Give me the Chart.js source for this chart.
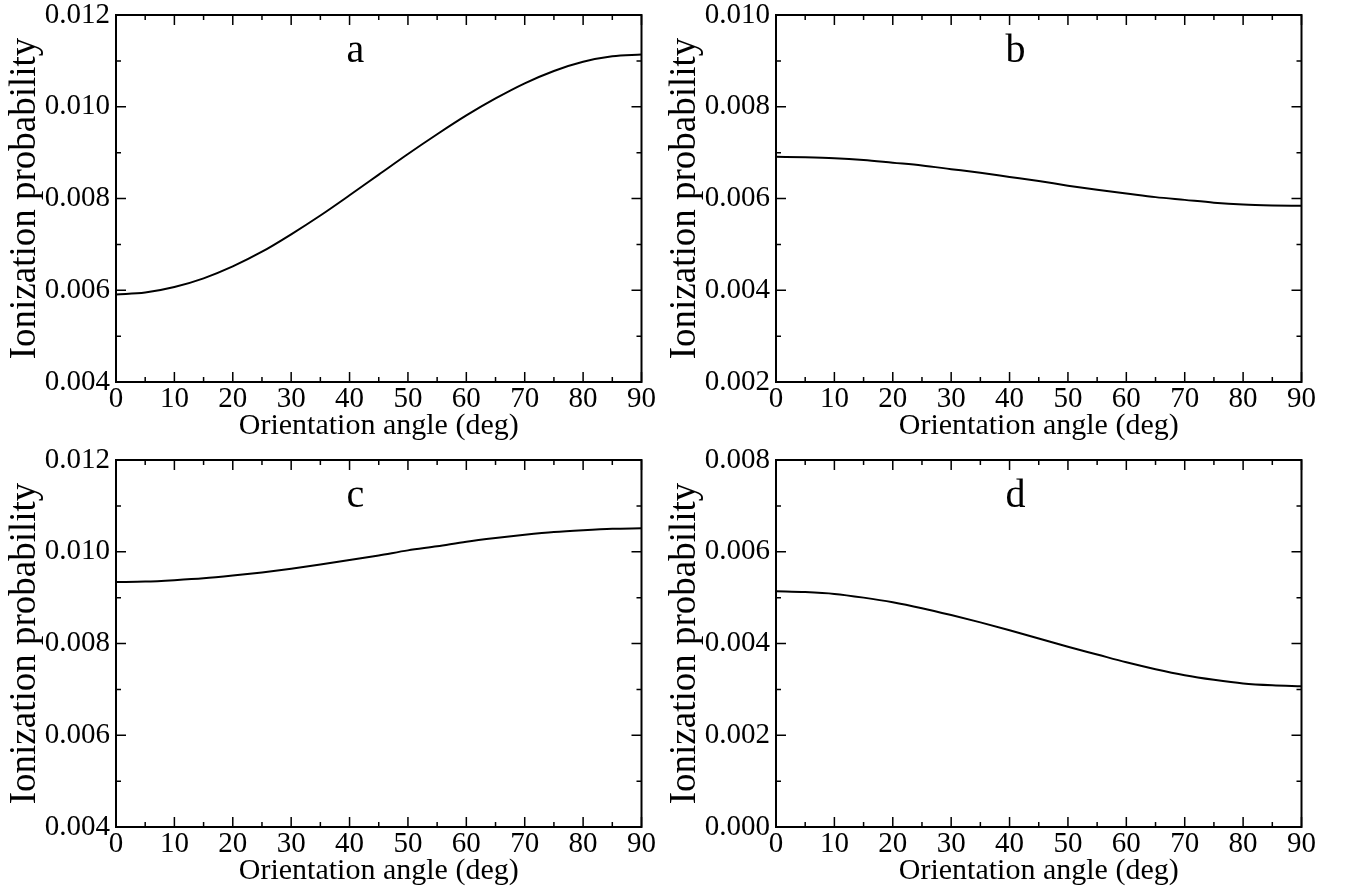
<!DOCTYPE html>
<html>
<head>
<meta charset="utf-8">
<script src="https://cdn.jsdelivr.net/npm/chart.js@4.4.1/dist/chart.umd.min.js"></script>
<style>
  body { margin: 0; background: #fff; width: 1352px; height: 892px; position: relative; overflow: hidden; }
  canvas { position: absolute; }
</style>
</head>
<body>
<canvas id="pa" width="676" height="461" style="left:0;top:-15px"></canvas>
<canvas id="pb" width="676" height="461" style="left:660px;top:-15px"></canvas>
<canvas id="pc" width="676" height="461" style="left:0;top:430px"></canvas>
<canvas id="pd" width="676" height="461" style="left:660px;top:430px"></canvas>
<script>
// orientation angle (deg)
const angles = [0, 5, 10, 15, 20, 25, 30, 35, 40, 45, 50, 55, 60, 65, 70, 75, 80, 85, 90];

// ionization probability
const probA = [0.00591, 0.00595, 0.00607, 0.00626, 0.00652, 0.00684, 0.00722, 0.00763, 0.00807, 0.00852,
               0.00897, 0.00940, 0.00981, 0.01018, 0.01051, 0.01078, 0.01098, 0.01110, 0.01114];
const probB = [0.00691, 0.00690, 0.00688, 0.00684, 0.00678, 0.00672, 0.00664, 0.00656, 0.00647, 0.00638,
               0.00628, 0.00619, 0.00611, 0.00603, 0.00597, 0.00591, 0.00587, 0.00585, 0.00584];
const probC = [0.00934, 0.00935, 0.00938, 0.00942, 0.00948, 0.00955, 0.00963, 0.00972, 0.00982, 0.00992,
               0.01003, 0.01012, 0.01022, 0.01030, 0.01037, 0.01043, 0.01047, 0.01050, 0.01051];
const probD = [0.00514, 0.00512, 0.00508, 0.00500, 0.00490, 0.00477, 0.00462, 0.00446, 0.00429, 0.00411,
               0.00393, 0.00376, 0.00359, 0.00344, 0.00331, 0.00321, 0.00313, 0.00309, 0.00307];

// y axis ranges for each panel
const yRangeA = [0.004, 0.012];
const yRangeB = [0.002, 0.010];
const yRangeC = [0.004, 0.012];
const yRangeD = [0.000, 0.008];

const panelLetters = ["a", "b", "c", "d"];

const FONT = "'Liberation Serif', 'Times New Roman', serif";

// box around the plot, inward ticks on all four sides, panel letter
const framePlugin = {
  id: "frame",
  afterDatasetsDraw(chart, args, opts) {
    const { ctx, chartArea, scales } = chart;
    const { left, right, top, bottom } = chartArea;
    const x = scales.x, y = scales.y;
    ctx.save();
    ctx.strokeStyle = "#000";
    ctx.lineWidth = 1.5;
    ctx.beginPath();
    for (let v = 0; v <= 90; v += 5) {
      const px = x.getPixelForValue(v);
      const len = v % 10 === 0 ? 10 : 5;
      ctx.moveTo(px, bottom); ctx.lineTo(px, bottom - len);
      ctx.moveTo(px, top); ctx.lineTo(px, top + len);
    }
    const ymin = y.min, ymax = y.max;
    for (let i = 0; i <= 8; i++) {
      const py = y.getPixelForValue(ymin + (ymax - ymin) * i / 8);
      const len = i % 2 === 0 ? 10 : 5;
      ctx.moveTo(left, py); ctx.lineTo(left + len, py);
      ctx.moveTo(right, py); ctx.lineTo(right - len, py);
    }
    ctx.stroke();
    ctx.lineWidth = 2;
    ctx.strokeRect(left, top, right - left, bottom - top);
    ctx.fillStyle = "#000";
    ctx.font = "40px " + FONT;
    ctx.textAlign = "center";
    ctx.textBaseline = "alphabetic";
    ctx.fillText(opts.letter, x.getPixelForValue(41), top + 47);
    ctx.restore();
  }
};

function makePanel(id, values, range, letter) {
  return new Chart(document.getElementById(id), {
    type: "line",
    data: {
      labels: angles,
      datasets: [{
        data: values,
        borderColor: "#000",
        borderWidth: 2,
        pointRadius: 0,
        cubicInterpolationMode: "monotone",
        fill: false
      }]
    },
    options: {
      responsive: false,
      animation: false,
      layout: { padding: { left: 0, top: 30, right: 34.5, bottom: 0 } },
      plugins: {
        legend: { display: false },
        tooltip: { enabled: false },
        frame: { letter: letter }
      },
      scales: {
        x: {
          type: "linear",
          min: 0,
          max: 90,
          grid: { display: false, drawTicks: false },
          border: { display: false },
          ticks: { stepSize: 10, color: "#000", padding: 3, font: { family: FONT, size: 29, lineHeight: 1 } },
          title: {
            display: true,
            text: "Orientation angle (deg)",
            color: "#000",
            font: { family: FONT, size: 30 },
            padding: { top: 0, bottom: 2 }
          },
          afterFit(s) { s.height = 64; }
        },
        y: {
          min: range[0],
          max: range[1],
          grid: { display: false, drawTicks: false },
          border: { display: false },
          ticks: {
            stepSize: 0.002,
            color: "#000",
            padding: 6,
            font: { family: FONT, size: 29, lineHeight: 1 },
            callback: (v) => v.toFixed(3)
          },
          title: {
            display: true,
            text: "Ionization probability",
            color: "#000",
            font: { family: FONT, size: 37 },
            padding: { top: 3, bottom: 0 }
          },
          afterFit(s) { s.width = 116; }
        }
      }
    },
    plugins: [framePlugin]
  });
}

makePanel("pa", probA, yRangeA, panelLetters[0]);
makePanel("pb", probB, yRangeB, panelLetters[1]);
makePanel("pc", probC, yRangeC, panelLetters[2]);
makePanel("pd", probD, yRangeD, panelLetters[3]);
</script>
</body>
</html>
